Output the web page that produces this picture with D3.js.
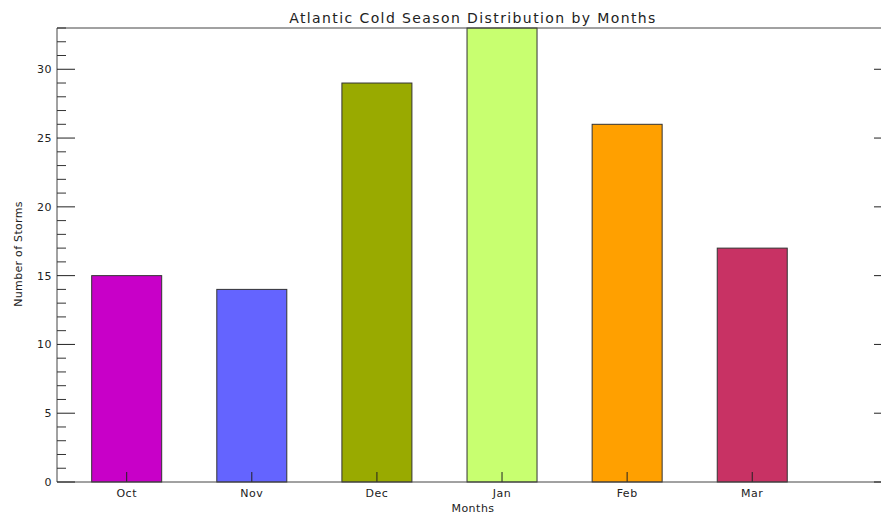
<!DOCTYPE html>
<html><head><meta charset="utf-8">
<script src="https://cdn.jsdelivr.net/npm/d3@7"></script>
<style>body{margin:0;background:#fff}svg{display:block}text{font-family:"DejaVu Sans",sans-serif;fill:#222}</style>
</head><body><svg id="c" width="881" height="515"></svg>
<script>
const months = ["Oct","Nov","Dec","Jan","Feb","Mar"];
const storms = [15,14,29,33,26,17];
const colors = ["#C800C8","#6464FF","#99AA00","#C8FF70","#FFA000","#C83264"];
const yTicks = [0,5,10,15,20,25,30];
const yMinor = d3.range(0,34,1);

const svg = d3.select("#c");
const L=57, R=892, T=28, B=482;
const x = d3.scaleLinear().domain([-0.557, 6.117]).range([L,R]);
const y = d3.scaleLinear().domain([0,33]).range([B,T]);
const bw = 70;

svg.selectAll("rect.bar").data(storms).enter().append("rect")
  .attr("x",(d,i)=>x(i)-bw/2).attr("y",d=>y(d))
  .attr("width",bw).attr("height",d=>B-y(d))
  .attr("fill",(d,i)=>colors[i]).attr("stroke","#333").attr("stroke-width",1);

svg.selectAll("line.xt").data(months).enter().append("line")
  .attr("x1",(d,i)=>x(i)).attr("x2",(d,i)=>x(i)).attr("y1",B).attr("y2",B-10)
  .attr("stroke","#222");
svg.selectAll("text.xl").data(months).enter().append("text")
  .attr("x",(d,i)=>x(i)).attr("y",497).attr("text-anchor","middle")
  .attr("font-size",11).attr("letter-spacing",0.5).text(d=>d);

svg.append("line").attr("x1",L).attr("x2",R).attr("y1",T).attr("y2",T).attr("stroke","#444");
svg.append("line").attr("x1",L).attr("x2",R).attr("y1",B).attr("y2",B).attr("stroke","#444");
svg.append("line").attr("x1",L).attr("x2",L).attr("y1",T).attr("y2",B).attr("stroke","#444");
svg.append("line").attr("x1",R).attr("x2",R).attr("y1",T).attr("y2",B).attr("stroke","#444");

svg.selectAll("line.ym").data(yMinor.filter(v=>v%5)).enter().append("line")
  .attr("x1",L).attr("x2",L+9).attr("y1",d=>y(d)).attr("y2",d=>y(d)).attr("stroke","#333");
svg.selectAll("line.yM").data(yTicks).enter().append("line")
  .attr("x1",L).attr("x2",L+18).attr("y1",d=>y(d)).attr("y2",d=>y(d)).attr("stroke","#222");
svg.selectAll("line.yR").data(yTicks).enter().append("line")
  .attr("x1",R-18).attr("x2",R).attr("y1",d=>y(d)).attr("y2",d=>y(d)).attr("stroke","#222");
svg.selectAll("text.yl").data(yTicks).enter().append("text")
  .attr("x",52).attr("y",d=>y(d)+4).attr("text-anchor","end")
  .attr("font-size",11).attr("letter-spacing",0.5).text(d=>d);

svg.append("text").attr("x",473).attr("y",22.5).attr("text-anchor","middle")
  .attr("font-size",14).attr("letter-spacing",1.4).text("Atlantic Cold Season Distribution by Months");
svg.append("text").attr("x",473).attr("y",512).attr("text-anchor","middle")
  .attr("font-size",11).attr("letter-spacing",0.5).text("Months");
svg.append("text").attr("transform","translate(22,254) rotate(-90)").attr("text-anchor","middle")
  .attr("font-size",11).attr("letter-spacing",0.3).text("Number of Storms");
</script></body></html>
